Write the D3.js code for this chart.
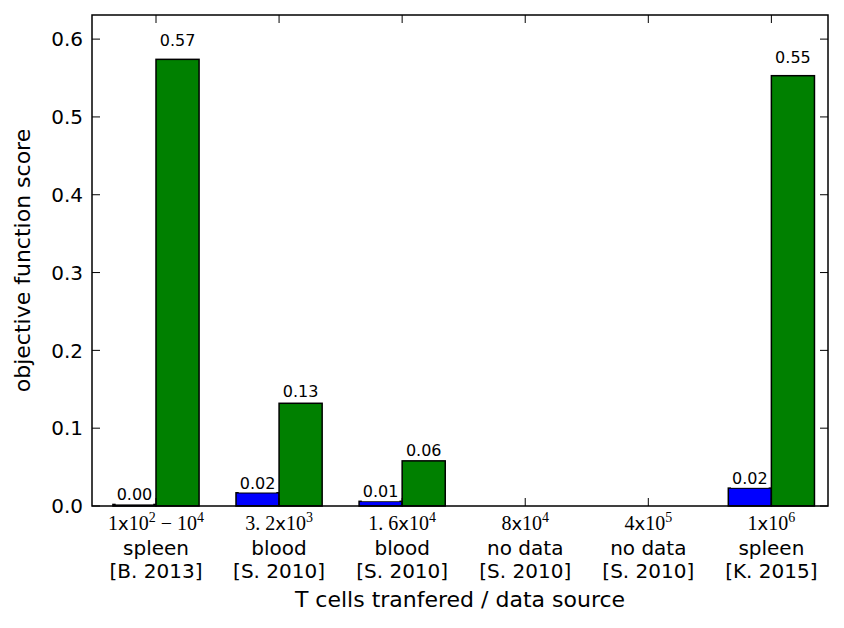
<!DOCTYPE html>
<html><head><meta charset="utf-8">
<script src="https://cdn.jsdelivr.net/npm/d3@7"></script>
<style>body{margin:0;background:#fff}</style>
</head><body>
<svg id="chart" width="844" height="628"></svg>
<script>
// ---- data ----
const mathLabels = [
  [["1",""],["x","sans"],["10",""],["2","sup"],["\u2212","op"],["10",""],["4","sup"]],
  [["3. 2",""],["x","sans"],["10",""],["3","sup"]],
  [["1. 6",""],["x","sans"],["10",""],["4","sup"]],
  [["8",""],["x","sans"],["10",""],["4","sup"]],
  [["4",""],["x","sans"],["10",""],["5","sup"]],
  [["1",""],["x","sans"],["10",""],["6","sup"]]
];
const tissues = ["spleen","blood","blood","no data","no data","spleen"];
const sources = ["[B. 2013]","[S. 2010]","[S. 2010]","[S. 2010]","[S. 2010]","[K. 2015]"];
const blueValues = [0.002, 0.017, 0.006, null, null, 0.023];
const greenValues = [0.574, 0.132, 0.058, null, null, 0.553];
const yTicks = [0.0, 0.1, 0.2, 0.3, 0.4, 0.5, 0.6];
const xTitle = "T cells tranfered / data source";
const yTitle = "objective function score";

// ---- layout ----
const svg = d3.select("#chart");
const L = 92, R = 828, T = 15, B = 506;
const barW = 0.35;
const x = d3.scaleLinear().domain([-0.52, 5.46]).range([L, R]);
const y = d3.scaleLinear().domain([0, 0.631]).range([B, T]);
const sans = "'DejaVu Sans', sans-serif";
const serif = "'Liberation Serif', 'DejaVu Serif', serif";

// bars
const idx = d3.range(6);
const g = svg.append("g");
function drawBars(vals, off, color) {
  g.selectAll(null).data(idx.filter(i => vals[i] !== null)).enter().append("rect")
    .attr("x", i => x(i + off - barW))
    .attr("width", i => x(i + off) - x(i + off - barW))
    .attr("y", i => y(vals[i]))
    .attr("height", i => y(0) - y(vals[i]))
    .attr("fill", color).attr("stroke", "#000").attr("stroke-width", 1.5);
}
drawBars(blueValues, 0, "#0000ff");
drawBars(greenValues, barW, "#008000");

// value labels
function drawLabels(vals, off) {
  idx.filter(i => vals[i] !== null).forEach(i => {
    const cx = x(i + off - barW / 2);
    const by = y(vals[i] * 1.02) - 4;
    const t = svg.append("text").attr("x", cx).attr("y", by)
      .attr("text-anchor", "middle").attr("font-family", sans).attr("font-size", 16)
      .text(d3.format(".2f")(vals[i]));
    const bb = t.node().getBBox();
    svg.insert("rect", () => t.node()).attr("x", bb.x - 1).attr("y", bb.y + 1)
      .attr("width", bb.width + 2).attr("height", bb.height - 1).attr("fill", "#fff");
  });
}
drawLabels(blueValues, 0);
drawLabels(greenValues, barW);

// frame
svg.append("rect").attr("x", L).attr("y", T).attr("width", R - L).attr("height", B - T)
  .attr("fill", "none").attr("stroke", "#000").attr("stroke-width", 1.5);

// y ticks (inside, both sides)
const tk = 8;
yTicks.forEach(v => {
  svg.append("line").attr("x1", L).attr("x2", L + tk).attr("y1", y(v)).attr("y2", y(v)).attr("stroke", "#000");
  svg.append("line").attr("x1", R).attr("x2", R - tk).attr("y1", y(v)).attr("y2", y(v)).attr("stroke", "#000");
  svg.append("text").attr("x", L - 9).attr("y", y(v) + 7.3).attr("text-anchor", "end")
    .attr("font-family", sans).attr("font-size", 20).text(d3.format(".1f")(v));
});

// x ticks (inside, both sides) and labels
idx.forEach(i => {
  const cx = x(i);
  svg.append("line").attr("x1", cx).attr("x2", cx).attr("y1", B).attr("y2", B - tk).attr("stroke", "#000");
  svg.append("line").attr("x1", cx).attr("x2", cx).attr("y1", T).attr("y2", T + tk).attr("stroke", "#000");
  const t1 = svg.append("text").attr("x", cx).attr("y", 530).attr("text-anchor", "middle")
    .attr("font-family", serif).attr("font-size", 20);
  let raised = false, afterOp = false;
  mathLabels[i].forEach(([s, kind]) => {
    const ts = t1.append("tspan").text(s);
    if (kind === "sans") ts.attr("font-family", sans).attr("font-size", 18);
    if (kind === "sup") { ts.attr("font-size", 14).attr("dy", -8); raised = true; }
    else if (raised) { ts.attr("dy", 8); raised = false; }
    if (afterOp) { ts.attr("dx", 5); afterOp = false; }
    if (kind === "op") { ts.attr("dx", 5); afterOp = true; }
  });
  svg.append("text").attr("x", cx).attr("y", 555).attr("text-anchor", "middle")
    .attr("font-family", sans).attr("font-size", 20).text(tissues[i]);
  svg.append("text").attr("x", cx).attr("y", 578).attr("text-anchor", "middle")
    .attr("font-family", sans).attr("font-size", 20).text(sources[i]);
});

// axis titles
svg.append("text").attr("x", (L + R) / 2).attr("y", 607).attr("text-anchor", "middle")
  .attr("font-family", sans).attr("font-size", 22).text(xTitle);
svg.append("text").attr("transform", `translate(30,${(T + B) / 2}) rotate(-90)`)
  .attr("text-anchor", "middle").attr("font-family", sans).attr("font-size", 22).text(yTitle);
</script>
</body></html>
